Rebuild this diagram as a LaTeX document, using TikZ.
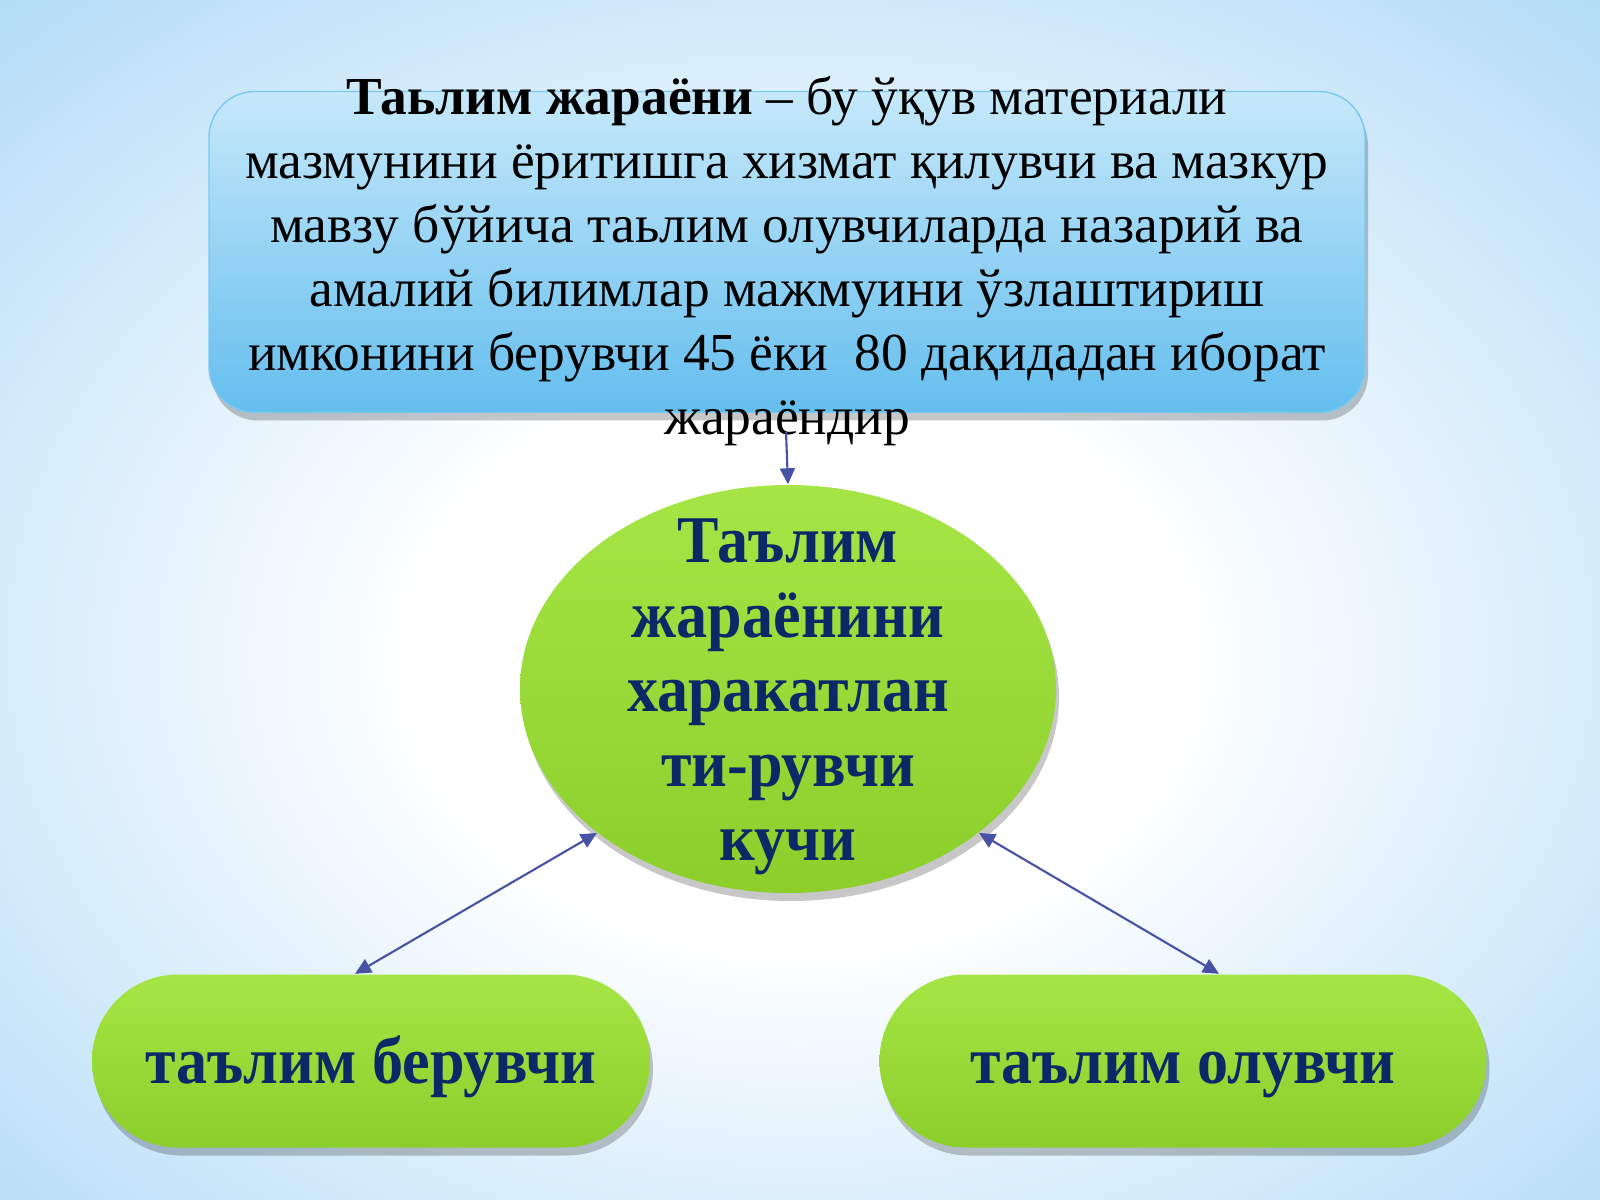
\documentclass[tikz,border=0pt]{standalone}
\usepackage{fontspec}
\setmainfont{Liberation Serif}
\newfontfamily\bcond[FakeStretch=0.93]{Liberation Serif}
\usetikzlibrary{shapes.geometric,arrows.meta,shadows,fadings,calc}
\definecolor{bgB}{RGB}{150,206,244}
\definecolor{bgA}{RGB}{205,232,250}
\definecolor{bandc}{RGB}{160,210,245}
\definecolor{boxtop}{RGB}{198,232,250}
\definecolor{boxbot}{RGB}{100,190,238}
\definecolor{greentop}{RGB}{165,230,70}
\definecolor{greenbot}{RGB}{140,206,42}
\definecolor{navy}{RGB}{12,40,102}
\definecolor{arrowc}{RGB}{72,82,165}
\pgfdeclareradialshading{bgshade}{\pgfpoint{0bp}{-3bp}}{color(0bp)=(white); color(12bp)=(white); color(28bp)=(bgA); color(46bp)=(bgB); color(72bp)=(bgB)}
\tikzfading[name=bandfade, top color=transparent!100, middle color=transparent!55, bottom color=transparent!100]
\begin{document}
\begin{tikzpicture}[x=0.1mm,y=-0.1mm,
  softshadow/.style={drop shadow={shadow xshift=0.3mm, shadow yshift=-0.8mm, opacity=0.22, fill=black}},
  bluebox/.style={draw=boxbot!85, line width=0.4pt, rounded corners=4.6mm,
    top color=boxtop, bottom color=boxbot, minimum width=115.6mm, minimum height=32.1mm, softshadow},
  greenbox/.style={top color=greentop, bottom color=greenbot, draw=none, text=navy,
    font=\bcond\bfseries\fontsize{19}{21.2}\selectfont, softshadow},
  ellnode/.style={greenbox, ellipse, minimum width=53.6mm, minimum height=40.8mm, inner sep=0pt},
  pill/.style={greenbox, rectangle, rounded corners=8.6mm, minimum height=17.3mm, inner sep=0pt,
    text height=13pt, text depth=0pt},
  conn/.style={draw=arrowc, line width=0.6pt},
  tipc/.tip={Triangle[length=1.6mm,width=1.5mm,fill=arrowc]}
]
\fill[shading=bgshade] (0,0) rectangle (1600,1200);
\fill[bandc, path fading=bandfade] (0,820) rectangle (1600,960);
\useasboundingbox (0,0) rectangle (1600,1200);

\node[bluebox] (box) at (787,252) {};
\node[font=\fontsize{15.2}{18.2}\selectfont, align=center, text=black, inner sep=0pt] (txt) at (787,261)
  {\textbf{Таьлим жараёни} – бу ўқув материали\\
   мазмунини ёритишга хизмат қилувчи ва мазкур\\
   мавзу бўйича таьлим олувчиларда назарий ва\\
   амалий билимлар мажмуини ўзлаштириш\\
   имконини берувчи 45 ёки\ \ 80 дақидадан иборат\\
   жараёндир};

\node[ellnode] (ell) at (788,689) {};
\node[font=\bcond\bfseries\fontsize{19}{21.2}\selectfont, text=navy, align=center, inner sep=0pt] (elltxt) at (788,697)
  {Таълим\\жараёнини\\харакатлан\\ти-рувчи\\кучи};

\node[pill, minimum width=55.8mm] (L) at (371,1061) {таълим берувчи};
\node[pill, minimum width=60.7mm] (R) at (1183,1061) {таълим олувчи};

\coordinate (a0) at (786,432);
\draw[conn, -tipc] (a0) -- (ell.north);
\draw[conn, tipc-tipc] (ell.217) -- ([xshift=-1.6mm]L.north);
\draw[conn, tipc-tipc] (ell.-37) -- ([xshift=3.6mm]R.north);
\end{tikzpicture}
\end{document}
